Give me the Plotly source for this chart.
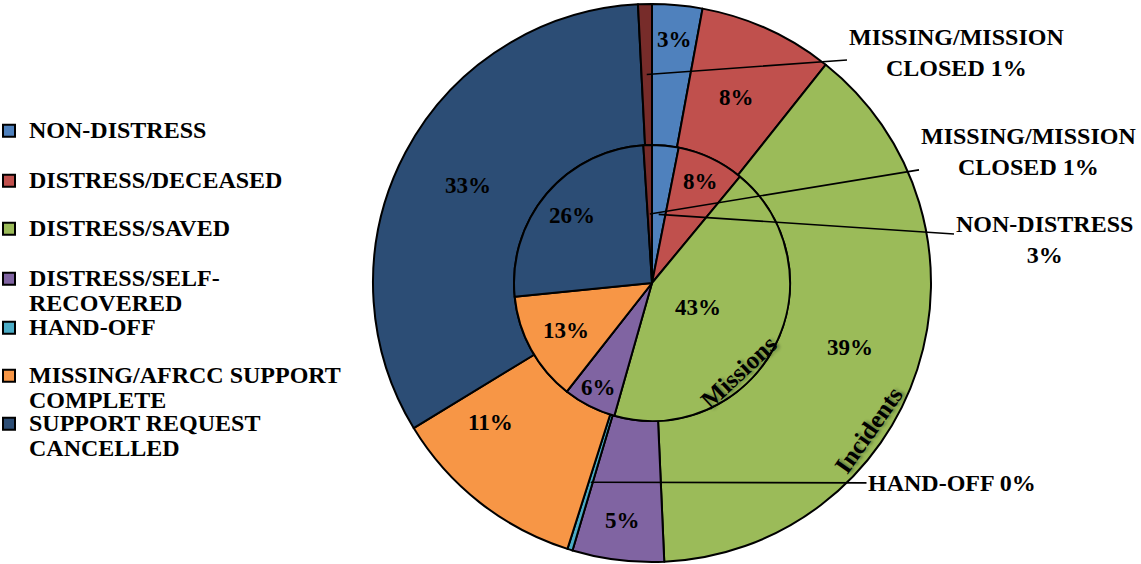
import math
import plotly.graph_objects as go

# ---------------- data ----------------
categories = [
    "NON-DISTRESS",
    "DISTRESS/DECEASED",
    "DISTRESS/SAVED",
    "DISTRESS/SELF-RECOVERED",
    "HAND-OFF",
    "MISSING/AFRCC SUPPORT COMPLETE",
    "SUPPORT REQUEST CANCELLED",
    "MISSING/MISSION CLOSED",
]
incidents_pct = [2.9, 7.8, 38.6, 5.3, 0.3, 11.4, 32.9, 0.8]   # outer ring
missions_pct = [3.1, 7.9, 43.4, 6.2, 0.0, 12.8, 25.6, 1.0]    # inner pie
legend_labels = [
    "NON-DISTRESS",
    "DISTRESS/DECEASED",
    "DISTRESS/SAVED",
    "DISTRESS/SELF-<br>RECOVERED",
    "HAND-OFF",
    "MISSING/AFRCC SUPPORT<br>COMPLETE",
    "SUPPORT REQUEST<br>CANCELLED",
]
ring_titles = ["Incidents", "Missions"]

# ---------------- style ----------------
colors = ["#4F81BD", "#C0504D", "#9BBB59", "#8064A2", "#4BACC6",
          "#F79646", "#2C4D75", "#772C2A"]
W, H = 1141, 564
CX, CY = 652, 283
R_OUT, R_IN = 279, 138
FONT = "Liberation Serif"
FS = 23
FS_BIG = 24

# label placement (style): radius in px, angular nudge in degrees
outer_inside = {0: (245, 0), 1: (204, 0), 2: (208, 0), 3: (239, 0), 5: (214, 11), 6: (208, 0)}
inner_inside = {1: (112, 0), 2: (52, 0), 3: (117, 0), 5: (98, 0), 6: (105, 0)}
# outside labels: (ring, index, anchor radius px, text-centre px)
outside = [
    ("outer", 7, (R_OUT + R_IN) / 2, (956, 52), "MISSING/MISSION<br>CLOSED {p}%"),
    ("inner", 7, R_IN / 2, (1028, 152), "MISSING/MISSION<br>CLOSED {p}%"),
    ("inner", 0, R_IN / 2, (1044, 240), "NON-DISTRESS<br>{p}%"),
    ("outer", 4, (R_OUT + R_IN) / 2, (952, 483), "HAND-OFF {p}%"),
]


def mid_angle(vals, i):
    tot = sum(vals)
    cum = sum(vals[:i]) + vals[i] / 2
    return 2 * math.pi * cum / tot


def polar_px(vals, i, r, dang=0.0):
    a = mid_angle(vals, i) + math.radians(dang)
    return CX + r * math.sin(a), CY - r * math.cos(a)


def to_paper(px, py):
    return px / W, 1 - py / H


fig = go.Figure()

fig.add_trace(go.Pie(
    labels=categories, values=incidents_pct, name="Incidents",
    sort=False, direction="clockwise", rotation=0, hole=R_IN / R_OUT,
    marker=dict(colors=colors, line=dict(color="black", width=2)),
    textinfo="none", hoverinfo="label+percent", showlegend=False,
    domain=dict(x=[(CX - R_OUT) / W, (CX + R_OUT) / W],
                y=[(H - CY - R_OUT) / H, (H - CY + R_OUT) / H]),
))
fig.add_trace(go.Pie(
    labels=categories, values=missions_pct, name="Missions",
    sort=False, direction="clockwise", rotation=0,
    marker=dict(colors=colors, line=dict(color="black", width=2)),
    textinfo="none", hoverinfo="label+percent", showlegend=False,
    domain=dict(x=[(CX - R_IN) / W, (CX + R_IN) / W],
                y=[(H - CY - R_IN) / H, (H - CY + R_IN) / H]),
))

# legend entries (one small legend per item to match the spacing)
legend_first_line_y = [130, 180, 228, 278, 327, 375, 423]
layout_legends = {}
for i, lab in enumerate(legend_labels):
    key = "legend" if i == 0 else f"legend{i + 1}"
    fig.add_trace(go.Scatter(
        x=[None], y=[None], mode="markers",
        name=f'<span style="font-size:{FS_BIG}px">{lab}</span>', legend=key,
        marker=dict(symbol="square", size=12, color=colors[i],
                    line=dict(color="black", width=2)),
        hoverinfo="skip", showlegend=True,
    ))
    layout_legends[key] = dict(
        x=-11 / W, xanchor="left",
        y=1 - (legend_first_line_y[i] - 18) / H, yanchor="top",
        font=dict(family=FONT, size=19, color="black", weight="bold"),
        bgcolor="rgba(0,0,0,0)", valign="top", itemsizing="trace",
        itemclick=False, itemdoubleclick=False,
    )

annotations = []
lab_font = dict(family=FONT, size=FS, color="black", weight="bold")
big_font = dict(family=FONT, size=FS_BIG, color="black", weight="bold")
for i, (r, d) in outer_inside.items():
    x, y = to_paper(*polar_px(incidents_pct, i, r, d))
    annotations.append(dict(x=x, y=y, xref="paper", yref="paper",
                            xanchor="center", yanchor="middle",
                            text=f"{incidents_pct[i]:.0f}%", showarrow=False,
                            font=lab_font))
for i, (r, d) in inner_inside.items():
    x, y = to_paper(*polar_px(missions_pct, i, r, d))
    annotations.append(dict(x=x, y=y, xref="paper", yref="paper",
                            xanchor="center", yanchor="middle",
                            text=f"{missions_pct[i]:.0f}%", showarrow=False,
                            font=lab_font))
for ring, i, r, (tx, ty), tmpl in outside:
    vals = incidents_pct if ring == "outer" else missions_pct
    px, py = polar_px(vals, i, r)
    x, y = to_paper(px, py)
    annotations.append(dict(
        x=x, y=y, xref="paper", yref="paper",
        text=tmpl.format(p=f"{vals[i]:.0f}"), showarrow=True,
        arrowhead=0, arrowwidth=1.6, arrowcolor="black",
        ax=tx - px, ay=ty - py, font=big_font, align="center",
    ))

shadow = "2px 2px 3px rgba(0,0,0,0.35)"
annotations.append(dict(x=868 / W, y=1 - 430 / H, xref="paper", yref="paper",
                        xanchor="center", yanchor="middle",
                        text=ring_titles[0], showarrow=False, textangle=-55,
                        font=dict(family=FONT, size=FS_BIG + 1, color="black",
                                  weight="bold", shadow=shadow)))
annotations.append(dict(x=738 / W, y=1 - 372 / H, xref="paper", yref="paper",
                        xanchor="center", yanchor="middle",
                        text=ring_titles[1], showarrow=False, textangle=-43,
                        font=dict(family=FONT, size=FS_BIG + 1, color="black",
                                  weight="bold", shadow=shadow)))

fig.update_layout(
    width=W, height=H,
    margin=dict(l=0, r=0, t=0, b=0, autoexpand=False),
    paper_bgcolor="white", plot_bgcolor="rgba(0,0,0,0)",
    xaxis=dict(visible=False), yaxis=dict(visible=False),
    annotations=annotations,
    **layout_legends,
)

# remove the browser's default 8px page margin so the figure fills the window
fig.write_html("out.html", config={"displayModeBar": False},
               post_script="document.body.style.margin='0';")
